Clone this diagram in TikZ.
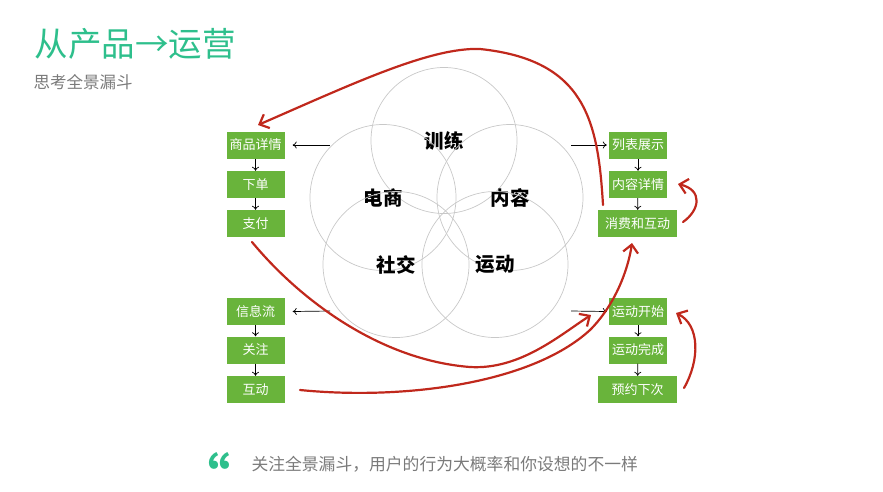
\documentclass[tikz,border=0pt]{standalone}
\usepackage{fontspec}
\setmainfont{Noto Sans CJK SC}
\usepackage{xcolor}
\usetikzlibrary{arrows.meta, calc, positioning}

\definecolor{boxgreen}{HTML}{69B43B}
\definecolor{titlegreen}{HTML}{2EBF8C}
\definecolor{pen}{HTML}{C0281C}
\definecolor{ring}{HTML}{C8C8C8}
\definecolor{note}{HTML}{7A7A7A}

\tikzset{
  box/.style={fill=boxgreen, text=white, minimum width=58pt, minimum height=27pt,
    inner sep=0pt, font=\fontsize{13}{15}\selectfont},
  widebox/.style={box, minimum width=79pt},
  ring/.style={circle, draw=ring, line width=0.7pt, minimum size=146pt, inner sep=0pt,
    font=\fontsize{19.5}{21}\selectfont\bfseries},
  link/.style={-{To[length=4pt,width=7pt]}, line width=0.7pt},
  pen/.style={draw=pen, line width=2.2pt, line cap=round,
    -{Straight Barb[length=8pt,width=15pt]}}
}

\begin{document}
\begin{tikzpicture}[x=1pt, y=-1pt]
                        \useasboundingbox (0,0) rectangle (883,491);
                        \node[anchor=west, text=titlegreen, font=\fontsize{33.5}{36}\selectfont] (title) at (31,44) {从产品→运营};
                        \node[anchor=west, text=note, font=\fontsize{16.5}{18}\selectfont] (sub) at (30,82) {思考全景漏斗};
                        \node[ring] (xl) at (444,140.5) {训练};
                        \node[ring] (ds) at (383,197.5) {电商};
                        \node[ring] (nr) at (510,197.5) {内容};
                        \node[ring] (sj) at (396,264.5) {社交};
                        \node[ring] (yd) at (495,264.5) {运动};
                        \node[box] (spxq) at (255.5,145) {商品详情};
                        \node[box] (xd) at (255.5,184.5) {下单};
                        \node[box] (zf) at (255.5,223.5) {支付};
                        \node[box] (xxl) at (255.5,311.5) {信息流};
                        \node[box] (gz) at (255.5,350) {关注};
                        \node[box] (hd) at (255.5,389.5) {互动};
                        \node[box] (lbzs) at (638,145) {列表展示};
                        \node[box] (nrxq) at (638,184.5) {内容详情};
                        \node[widebox] (xfhd) at (637.5,223.5) {消费和互动};
                        \node[box] (ydks) at (638,311.5) {运动开始};
                        \node[box] (ydwc) at (638,350) {运动完成};
                        \node[widebox] (yyxc) at (637.5,389.5) {预约下次};
                        \node[anchor=center, text=titlegreen, font=\fontsize{52}{52}\selectfont\bfseries] (qm) at (204.5,475) {“};
                        \node[anchor=west, text=note, font=\fontsize{16.8}{18}\selectfont] (quote) at (248,464) {关注全景漏斗，用户的行为大概率和你设想的不一样};
                        \coordinate (la) at (330,145);
                        \coordinate (lb) at (330,311);
                        \coordinate (ra) at (571,145);
                        \coordinate (rb) at (571,311);
                        \draw[link] (la) -- ([xshift=8pt]spxq.east);
                        \draw[link] (lb) -- ([xshift=8pt]xxl.east);
                        \draw[link] (ra) -- ([xshift=-2pt]lbzs.west);
                        \draw[link] (rb) -- ([xshift=-2pt]ydks.west);
                        \foreach \a/\b in {spxq/xd, xd/zf, xxl/gz, gz/hd, lbzs/nrxq, nrxq/xfhd, ydks/ydwc, ydwc/yyxc}
                          \draw[link] (\a) -- (\b);
                        % hand drawn red strokes
                        \coordinate (p1) at (603,205);
                        \coordinate (p1t) at (480,49);
                        \coordinate (p1e) at (258,125);
                        \coordinate (p2) at (252,242);
                        \coordinate (p2m) at (470,367);
                        \coordinate (p2e) at (591,315);
                        \coordinate (p3) at (300,390);
                        \coordinate (p3m) at (590,330);
                        \coordinate (p3e) at (632,243);
                        \coordinate (p4) at (683,222);
                        \coordinate (p4e) at (678,184);
                        \coordinate (p5) at (684,388);
                        \coordinate (p5e) at (676,313);
                        \draw[pen] (p1) .. controls (598,120) and (585,60) .. (p1t)
                          .. controls (430,47) and (350,85) .. (p1e);
                        \draw[pen] (p2) .. controls (300,300) and (380,360) .. (p2m)
                          .. controls (520,370) and (560,335) .. (p2e);
                        \draw[pen] (p3) .. controls (400,400) and (530,385) .. (p3m)
                          .. controls (615,305) and (628,270) .. (p3e);
                        \draw[pen] (p4) .. controls (700,210) and (703,190) .. (p4e);
                        \draw[pen] (p5) .. controls (700,360) and (700,325) .. (p5e);
                    \end{tikzpicture}
\end{document}
